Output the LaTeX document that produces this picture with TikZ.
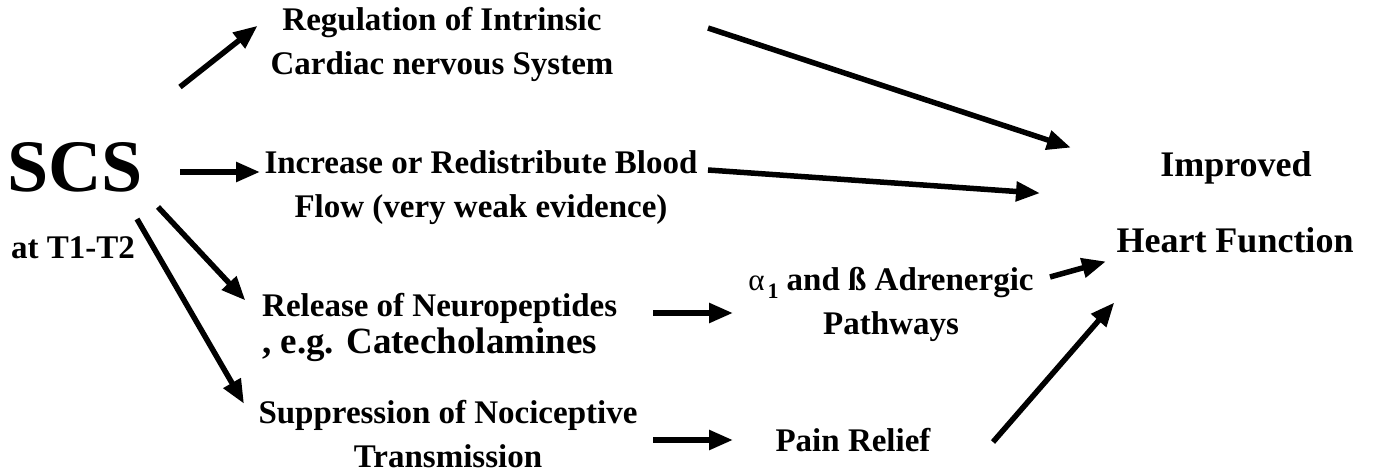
\documentclass[tikz,border=0pt]{standalone}
\usepackage{fontspec}
\setmainfont{Liberation Serif}
\usetikzlibrary{arrows.meta}
\newcommand\bigline{\fontsize{37}{44}\selectfont}
\tikzset{
  lbl/.style={font=\bfseries\fontsize{33}{44}\selectfont, align=center, inner sep=0pt},
  big/.style={font=\bfseries\fontsize{36}{72}\selectfont, align=center, inner sep=0pt},
  arr/.style={line width=5.5pt, -{Triangle[length=24pt,width=19pt]}, shorten >=-2pt}
}
\begin{document}
\begin{tikzpicture}[x=1pt,y=-1pt]
\useasboundingbox (0,0) rectangle (1375,476);
\node[lbl, anchor=center] (reg) at (442,44) {Regulation of Intrinsic\\Cardiac nervous System};
\node[inner sep=0pt, font=\bfseries\fontsize{74}{74}\selectfont] (scs) at (75,167) {SCS};
\node[lbl] (t1) at (73,248) {at T1-T2};
\node[lbl] (inc) at (481,188) {Increase or Redistribute Blood\\Flow (very weak evidence)};
\node[lbl, align=left, anchor=west] (rel) at (262,327) {Release of Neuropeptides\\[-7pt]\bigline, e.g. Catecholamines};
\node[lbl] (sup) at (448,434) {Suppression of Nociceptive\\Transmission};
\node[lbl] (adr) at (891,304) {{\mdseries\fontsize{31}{31}\selectfont α}\hspace{3pt}\raisebox{-8pt}{\fontsize{22}{22}\selectfont 1}\hspace{8pt}and ß Adrenergic\\Pathways};
\node[lbl] (pain) at (853,440) {Pain Relief};
\node[big] (imp) at (1236,168) {Improved};
\node[big] (hf) at (1235,240) {Heart Function};

\coordinate (a1s) at (180,87);  \coordinate (a1e) at (256,27);
\coordinate (a2s) at (180,172); \coordinate (a2e) at (258,172);
\coordinate (a3s) at (158,207); \coordinate (a3e) at (244,299);
\coordinate (a4s) at (137,219); \coordinate (a4e) at (243,402);
\coordinate (a5s) at (708,28);  \coordinate (a5e) at (1069,147);
\coordinate (a6s) at (708,170); \coordinate (a6e) at (1038,193);
\coordinate (a7s) at (653,313); \coordinate (a7e) at (731,313);
\coordinate (a8s) at (653,440); \coordinate (a8e) at (731,440);
\coordinate (a9s) at (1050,277); \coordinate (a9e) at (1104,262);
\coordinate (a10s) at (993,442); \coordinate (a10e) at (1113,304);

\draw[arr] (a1s) -- (a1e);
\draw[arr] (a2s) -- (a2e);
\draw[arr] (a3s) -- (a3e);
\draw[arr] (a4s) -- (a4e);
\draw[arr] (a5s) -- (a5e);
\draw[arr] (a6s) -- (a6e);
\draw[arr] (a7s) -- (a7e);
\draw[arr] (a8s) -- (a8e);
\draw[arr] (a9s) -- (a9e);
\draw[arr] (a10s) -- (a10e);
\end{tikzpicture}
\end{document}
